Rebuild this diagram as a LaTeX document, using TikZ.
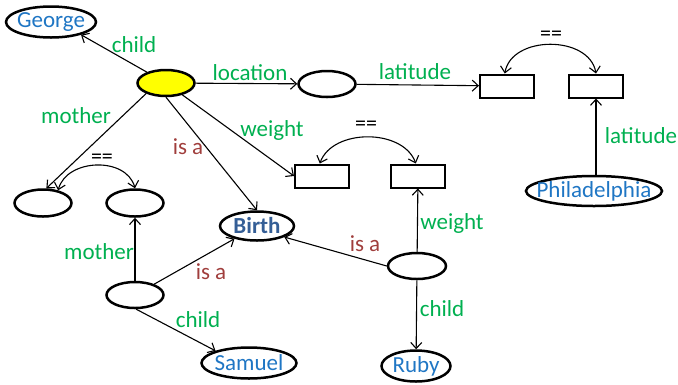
\documentclass[tikz,border=0pt]{standalone}
\usepackage{fontspec}
\setmainfont{Carlito}
\usetikzlibrary{shapes.geometric,arrows.meta}
\definecolor{nameblue}{RGB}{31,118,196}
\definecolor{relgreen}{RGB}{0,176,80}
\definecolor{isabrown}{RGB}{160,62,60}
\definecolor{birthblue}{RGB}{52,94,150}
\definecolor{hilite}{RGB}{255,255,0}
\begin{document}
\begin{tikzpicture}[x=1pt,y=-1pt,
  font=\fontsize{23}{27}\selectfont,
  ell/.style={ellipse, draw, line width=2.5pt, inner sep=0pt},
  box/.style={rectangle, draw, line width=2pt, minimum width=54pt, minimum height=23pt, inner sep=0pt},
  tip/.tip={Straight Barb[length=6pt,width=11pt]},
  edge/.style={line width=1.1pt, -tip},
  both/.style={line width=1.1pt, tip-tip},
  rel/.style={text=relgreen, inner sep=0pt},
  isa/.style={text=isabrown, inner sep=0pt},
  eqs/.style={inner sep=0pt, font=\fontsize{22}{24}\selectfont},
  nametext/.style={text=nameblue, inner sep=0pt},
]
\useasboundingbox (0,0) rectangle (678,384);

% nodes
\node[ell, minimum width=90pt, minimum height=31pt, label={[nametext]center:George}] (george) at (51,22) {};
\node[ell, fill=hilite, minimum width=57pt, minimum height=26pt] (y) at (166,83) {};
\node[ell, minimum width=57pt, minimum height=26pt] (loc) at (327,84) {};
\node[box] (r1) at (507,86) {};
\node[box] (r2) at (596,86) {};
\node[ell, minimum width=136pt, minimum height=30pt, label={[nametext]center:Philadelphia}] (phil) at (594,191) {};
\node[box] (w1) at (322,176) {};
\node[box] (w2) at (418,176) {};
\node[ell, minimum width=57pt, minimum height=27pt] (e1) at (43,203) {};
\node[ell, minimum width=57pt, minimum height=27pt] (e2) at (135,203) {};
\node[ell, minimum width=74pt, minimum height=29pt, label={[text=birthblue, inner sep=0pt, font=\fontsize{23}{27}\selectfont\bfseries]center:Birth}] (birth) at (257,226) {};
\node[ell, minimum width=57pt, minimum height=26pt] (b1) at (135,295) {};
\node[ell, minimum width=58pt, minimum height=26pt] (rr) at (417,266) {};
\node[ell, minimum width=95pt, minimum height=31pt, label={[nametext]center:Samuel}] (samuel) at (249,363) {};
\node[ell, minimum width=69pt, minimum height=31pt, label={[nametext]center:Ruby}] (ruby) at (416,366) {};

% connectors
\draw[edge] (y) -- (george.-23);
\draw[edge] (y) -- (loc);
\draw[edge] (loc) -- (r1);
\draw[edge] (r2 |- phil.north) -- (r2);
\draw[both] (r1.100) to[out=80,in=100,looseness=1.1] (r2.north);
\draw[edge] (y.208) -- (e1.77);
\draw[both] (e1.40) to[out=75,in=105,looseness=1.1] (e2.north);
\draw[edge] (y.south) -- (birth.north);
\draw[edge] (y) -- (w1.west);
\draw[both] (w1.100) to[out=70,in=110] (w2.100);
\draw[edge] (b1) -- (e2);
\draw[edge] (b1) -- (birth);
\draw[edge] (b1.-85) -- (samuel.160);
\draw[edge] (rr.west) -- (birth.-22);
\draw[edge] (rr) -- (w2);
\draw[edge] (rr) -- (ruby);

% labels
\node[rel] (l1) at (134,45) {child};
\node[rel] (l2) at (250,73) {location};
\node[rel] (l3) at (415,72) {latitude};
\node[rel] (l4) at (641,136) {latitude};
\node[rel] (l5) at (76,116) {mother};
\node[isa] (l6) at (188,147) {is a};
\node[rel] (l7) at (272,130) {weight};
\node[eqs] (q1) at (551,36) {==};
\node[eqs] (q2) at (366,126) {==};
\node[eqs] (q3) at (102,159) {==};
\node[rel] (l8) at (99,252) {mother};
\node[isa] (l9) at (211,272) {is a};
\node[rel] (l10) at (198,320) {child};
\node[isa] (l11) at (365,244) {is a};
\node[rel] (l12) at (452,223) {weight};
\node[rel] (l13) at (442,309) {child};
\end{tikzpicture}
\end{document}
